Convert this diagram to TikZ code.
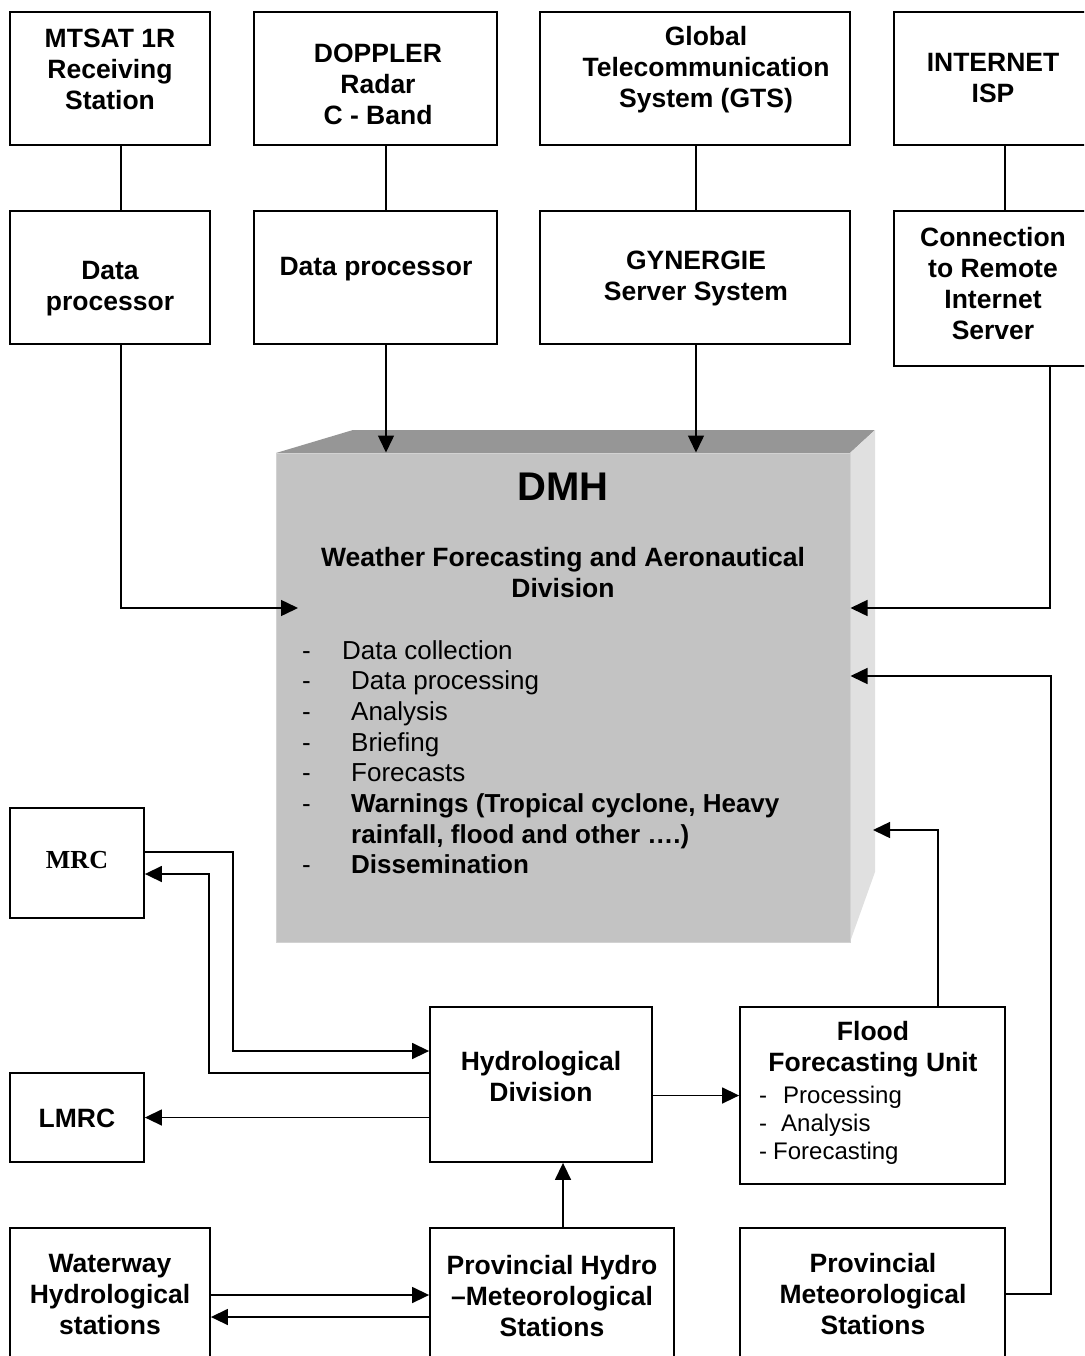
\documentclass[tikz,border=0pt]{standalone}
\usepackage{fontspec}
\setmainfont{Liberation Sans}
\newfontfamily\mrcserif{Liberation Serif}
\usetikzlibrary{arrows.meta}
\definecolor{dmhfront}{RGB}{195,195,195}
\definecolor{dmhtop}{RGB}{150,150,150}
\definecolor{dmhside}{RGB}{224,224,224}
\definecolor{dmhedge}{RGB}{210,210,210}
\begin{document}
\begin{tikzpicture}[x=1pt,y=-1pt,
  box/.style={draw, line width=1.8pt, fill=white, inner sep=0pt, rectangle},
  ttl/.style={font=\bfseries\fontsize{26.5}{31}\selectfont, align=center, inner sep=0pt},
  lst/.style={align=left, anchor=north west, inner sep=0pt},
  con/.style={line width=1.5pt},
  arr/.style={con, -{Triangle[length=17pt,width=16pt]}}]
\useasboundingbox (0,0) rectangle (1084,1356);
\clip (0,0) rectangle (1084,1356);

% ---- DMH 3D block
\fill[dmhtop] (276,453) -- (353,430) -- (875,430) -- (850,453) -- cycle;
\fill[dmhside] (850,453) -- (875,430) -- (875,872) -- (850,942) -- cycle;
\node[fill=dmhfront, draw=dmhedge, line width=1pt, inner sep=0pt, minimum width=574pt, minimum height=489pt] (dmh) at (563,697.5) {};
\coordinate (inL) at (298,608);
\coordinate (inS) at (873,830);

% ---- top row boxes
\node[box, minimum width=200pt, minimum height=133pt] (mtsat) at (110,78.5) {};
\node[box, minimum width=243pt, minimum height=133pt] (doppler) at (375.5,78.5) {};
\node[box, minimum width=310pt, minimum height=133pt] (global) at (695,78.5) {};
\node[box, minimum width=206pt, minimum height=133pt] (internet) at (997,78.5) {};
\node[box, minimum width=200pt, minimum height=133pt] (dp1) at (110,277.5) {};
\node[box, minimum width=243pt, minimum height=133pt] (dp2) at (375.5,277.5) {};
\node[box, minimum width=310pt, minimum height=133pt] (gyn) at (695,277.5) {};
\node[box, minimum width=206pt, minimum height=155pt] (conn) at (997,288.5) {};

% ---- lower boxes
\node[box, minimum width=134pt, minimum height=110pt] (mrc) at (77,863) {};
\node[box, minimum width=134pt, minimum height=89pt] (lmrc) at (77,1117.5) {};
\node[box, minimum width=222pt, minimum height=155pt] (hyd) at (541,1084.5) {};
\node[box, minimum width=265pt, minimum height=177pt] (flood) at (872.5,1095.5) {};
\node[box, minimum width=200pt, minimum height=132pt] (waterway) at (110,1294) {};
\node[box, minimum width=244pt, minimum height=132pt] (provhydro) at (552,1294) {};
\node[box, minimum width=265pt, minimum height=132pt] (provmet) at (872.5,1294) {};

% ---- texts
\node[ttl] (mtsat-t) at (110,69) {MTSAT 1R\\Receiving\\Station};
\node[ttl] (doppler-t) at (378,84) {DOPPLER\\Radar\\C - Band};
\node[ttl] (global-t) at (706,70) {Global\\Telecommunication\\System (GTS)};
\node[ttl] (internet-t) at (993,78) {INTERNET\\ISP};
\node[ttl] (dp1-t) at (110,289) {Data\\processor};
\node[ttl] (dp2-t) at (376,269) {Data processor};
\node[ttl] (gyn-t) at (696,278) {GYNERGIE\\Server System};
\node[ttl] (conn-t) at (993,284) {Connection\\to Remote\\Internet\\Server};

\node[font=\bfseries\fontsize{40}{48}\selectfont, inner sep=0pt] (dmh-t) at (563,487) {DMH};
\node[ttl] (dmh-s) at (563,573) {Weather Forecasting and Aeronautical\\Division};
\node[lst, font=\fontsize{26}{30.7}\selectfont] (dmh-l) at (302,640) {%
\makebox[40pt][l]{-}Data collection\\
\makebox[49pt][l]{-}Data processing\\
\makebox[49pt][l]{-}Analysis\\
\makebox[49pt][l]{-}Briefing\\
\makebox[49pt][l]{-}Forecasts\\
\makebox[49pt][l]{-}\textbf{Warnings (Tropical cyclone, Heavy}\\
\hspace*{49pt}\textbf{rainfall, flood and other ….)}\\
\makebox[49pt][l]{-}\textbf{Dissemination}};

\node[font=\mrcserif\bfseries\fontsize{26}{30}\selectfont, inner sep=0pt] (mrc-t) at (77,860) {MRC};
\node[ttl] (lmrc-t) at (77,1118) {LMRC};
\node[ttl] (hyd-t) at (541,1077) {Hydrological\\Division};
\node[ttl] (flood-t) at (873,1049) {Flood\\Forecasting Unit};
\node[lst, font=\fontsize{24}{28}\selectfont] (flood-l) at (759,1086) {%
\makebox[24pt][l]{-}Processing\\
\makebox[22pt][l]{-}Analysis\\
\makebox[14pt][l]{-}Forecasting};
\node[ttl] (waterway-t) at (110,1294) {Waterway\\Hydrological\\stations};
\node[ttl] (provhydro-t) at (552,1296) {Provincial Hydro\\–Meteorological\\Stations};
\node[ttl] (provmet-t) at (873,1294) {Provincial\\Meteorological\\Stations};

% ---- connectors (top)
\draw[con] ([xshift=11pt]mtsat.south) -- ([xshift=11pt]dp1.north);
\draw[con] ([xshift=10.5pt]doppler.south) -- ([xshift=10.5pt]dp2.north);
\draw[con] ([xshift=1pt]global.south) -- ([xshift=1pt]gyn.north);
\draw[con] ([xshift=8pt]internet.south) -- ([xshift=8pt]conn.north);
\draw[arr] ([xshift=11pt]dp1.south) |- (inL);
\draw[arr] ([xshift=10.5pt]dp2.south) -- ([xshift=-177pt]dmh.north);
\draw[arr] ([xshift=1pt]gyn.south) -- ([xshift=133pt]dmh.north);
\draw[arr] ([xshift=53pt]conn.south) |- ([yshift=89.5pt]dmh.east);
\draw[arr] (provmet.east) -- ++(45,0) |- ([yshift=21.5pt]dmh.east);
\draw[arr] ([xshift=65.5pt]flood.north) |- (inS);

% ---- connectors (bottom)
\draw[arr] ([yshift=11pt]mrc.east) -- ++(88,0) |- ([yshift=33.5pt]hyd.west);
\draw[arr] ([yshift=11.5pt]hyd.west) -- ++(-220,0) |- ([yshift=-11pt]mrc.east);
\draw[arr] (hyd.west |- lmrc.east) -- (lmrc.east);
\draw[arr] (hyd.east |- flood.west) -- (flood.west);
\draw[arr] ([xshift=11pt]provhydro.north) -- ([xshift=22pt]hyd.south);
\draw[arr] ([yshift=-1pt]waterway.east) -- ([yshift=-1pt]provhydro.west);
\draw[arr] ([yshift=-23pt]provhydro.west) -- ([yshift=-23pt]waterway.east);
\end{tikzpicture}
\end{document}
